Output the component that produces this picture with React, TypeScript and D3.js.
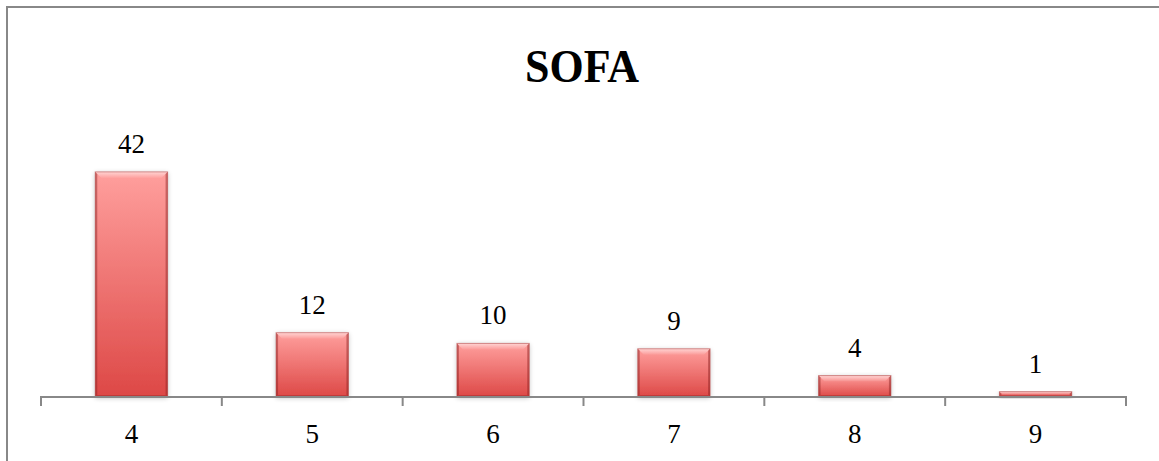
import React from "react";
import * as d3 from "d3";

const categories = ["4", "5", "6", "7", "8", "9"];
const counts = [42, 12, 10, 9, 4, 1];
const chartTitle = "SOFA";

const W = 1159;
const H = 461;
const margin = { left: 41, right: 33, top: 0, baseline: 397 };

export default function App() {
  const x = d3
    .scaleBand<string>()
    .domain(categories)
    .range([margin.left, W - margin.right])
    .paddingInner(0.6)
    .paddingOuter(0.3);

  const y = d3.scaleLinear().domain([0, 45]).range([margin.baseline, margin.baseline - 45 * 5.36]);

  const step = x.step();
  const tickXs = d3.range(categories.length + 1).map((i) => margin.left + i * step);
  const bw = x.bandwidth();

  return (
    <svg
      width={W}
      height={H}
      style={{ position: "absolute", left: 0, top: 0, background: "#fff" }}
      fontFamily="'Liberation Serif', serif"
    >
      <defs>
        <linearGradient id="barFill" x1="0" y1="0" x2="0" y2="1">
          <stop offset="0" stopColor="#ff9f9d" />
          <stop offset="1" stopColor="#dd4846" />
        </linearGradient>
        <linearGradient id="bevelTop" x1="0" y1="0" x2="0" y2="1">
          <stop offset="0" stopColor="#ffffff" stopOpacity={0.55} />
          <stop offset="1" stopColor="#ffffff" stopOpacity={0.05} />
        </linearGradient>
        <filter id="barShadow" x="-20%" y="-20%" width="140%" height="140%">
          <feGaussianBlur in="SourceAlpha" stdDeviation="2.5" />
          <feOffset dx="0" dy="1" result="b" />
          <feComponentTransfer>
            <feFuncA type="linear" slope="0.25" />
          </feComponentTransfer>
          <feMerge>
            <feMergeNode />
            <feMergeNode in="SourceGraphic" />
          </feMerge>
        </filter>
      </defs>

      {/* outer frame */}
      <rect x={7} y={7} width={W + 20} height={H + 20} fill="none" stroke="#888" strokeWidth={2} />

      <text
        x={582}
        y={82}
        textAnchor="middle"
        fontSize={46}
        fontWeight="bold"
        textLength={114}
        lengthAdjust="spacingAndGlyphs"
        fill="#000"
      >
        {chartTitle}
      </text>

      {categories.map((c, i) => {
        const x0 = x(c)!;
        const x1 = x0 + bw;
        const y0 = y(counts[i]);
        const y1 = y(0);
        const h = y1 - y0;
        const b = Math.min(6, h / 2);
        const s = Math.min(2, h / 2);
        return (
          <g key={c}>
            <g filter="url(#barShadow)">
              <rect x={x0} y={y0} width={bw} height={h} fill="url(#barFill)" />
            </g>
            <polygon
              points={`${x0},${y0} ${x1},${y0} ${x1 - b},${y0 + b} ${x0 + b},${y0 + b}`}
              fill="url(#bevelTop)"
            />
            <polygon
              points={`${x0},${y0} ${x0 + s},${y0 + s} ${x0 + s},${y1 - s} ${x0},${y1}`}
              fill="#8a2020"
              opacity={0.45}
            />
            <polygon
              points={`${x1},${y0} ${x1 - s},${y0 + s} ${x1 - s},${y1 - s} ${x1},${y1}`}
              fill="#8a2020"
              opacity={0.45}
            />
            <polygon
              points={`${x0},${y1} ${x0 + s},${y1 - s} ${x1 - s},${y1 - s} ${x1},${y1}`}
              fill="#8a2020"
              opacity={0.35}
            />
            <rect x={x0} y={y0} width={bw} height={h} fill="none" stroke="#a83838" strokeOpacity={0.5} strokeWidth={1} />
            <text x={x0 + bw / 2} y={y0 - 19} textAnchor="middle" fontSize={27} fill="#000">
              {counts[i]}
            </text>
          </g>
        );
      })}

      {/* category axis */}
      <line x1={margin.left} x2={W - margin.right} y1={margin.baseline} y2={margin.baseline} stroke="#888" strokeWidth={2} />
      {tickXs.map((tx, i) => (
        <line key={i} x1={tx} x2={tx} y1={margin.baseline - 1} y2={margin.baseline + 9} stroke="#888" strokeWidth={2} />
      ))}
      {categories.map((c) => (
        <text key={c} x={x(c)! + bw / 2} y={443} textAnchor="middle" fontSize={27} fill="#000">
          {c}
        </text>
      ))}
    </svg>
  );
}
